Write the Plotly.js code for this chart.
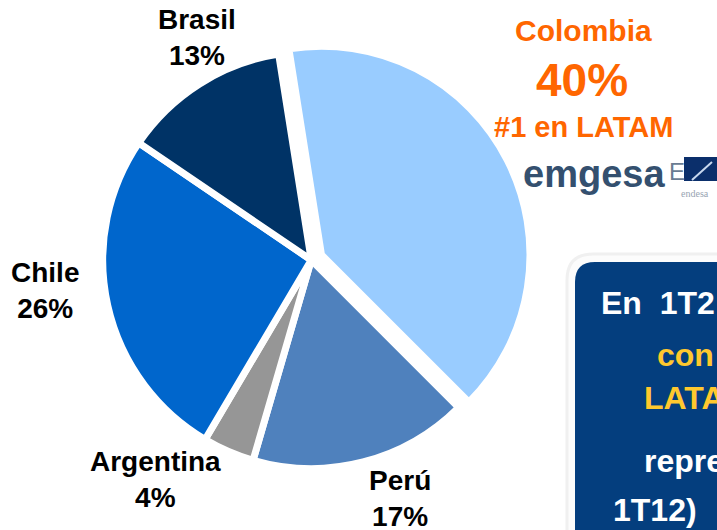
<!DOCTYPE html>
<html>
<head>
<meta charset="utf-8">
<script src="https://cdn.plot.ly/plotly-3.0.1.min.js"></script>
<style>html,body{margin:0;padding:0;background:#fff;}#chart{width:717px;height:530px;}</style>
</head>
<body>
<div id="chart"></div>
<script>
// ---- data ----
const labels = ["Colombia", "Perú", "Argentina", "Chile", "Brasil"];
const values = [40, 17, 4, 26, 13];
const colors = ["#99CCFF", "#4F81BD", "#969696", "#0066CC", "#003366"];
const colombiaNote = "#1 en LATAM";
const boxLines = ["En\u00a0 1T2", "con", "LATA", "repre", "1T12)"];
const boxColors = ["#FFFFFF", "#FFC82E", "#FFC82E", "#FFFFFF", "#FFFFFF"];

const W = 717, H = 530;
const px = x => x / W;
const py = y => 1 - y / H;

function roundRect(l, t, r, b, rad) {
  return `M ${px(l + rad)} ${py(t)} L ${px(r - rad)} ${py(t)} Q ${px(r)} ${py(t)} ${px(r)} ${py(t + rad)} ` +
         `L ${px(r)} ${py(b - rad)} Q ${px(r)} ${py(b)} ${px(r - rad)} ${py(b)} ` +
         `L ${px(l + rad)} ${py(b)} Q ${px(l)} ${py(b)} ${px(l)} ${py(b - rad)} ` +
         `L ${px(l)} ${py(t + rad)} Q ${px(l)} ${py(t)} ${px(l + rad)} ${py(t)} Z`;
}

const trace = {
  type: "pie",
  labels: labels,
  values: values,
  sort: false,
  direction: "clockwise",
  rotation: -9,
  pull: [0.055, 0, 0, 0, 0],
  marker: { colors: colors, line: { color: "#FFFFFF", width: 7 } },
  textinfo: "none",
  hoverinfo: "none",
  domain: { x: [0.1262, 0.7420], y: [0.0943, 0.9245] },
  showlegend: false
};

const labelFont = { family: "Liberation Sans, Arial, sans-serif", size: 28, color: "#000000", weight: 700 };
const labelPos = {
  "Perú": [400, 498],
  "Argentina": [155, 479],
  "Chile": [45, 290],
  "Brasil": [197, 38]
};
const total = values.reduce((a, b) => a + b, 0);
const annotations = [];
labels.forEach((lab, i) => {
  if (!labelPos[lab]) return;
  const p = labelPos[lab];
  annotations.push({
    xref: "paper", yref: "paper", x: px(p[0]), y: py(p[1]),
    xanchor: "center", yanchor: "middle", showarrow: false,
    text: lab + "<br>" + Math.round(values[i] / total * 100) + "%",
    font: labelFont
  });
});

const orange = "#FF6600";
annotations.push({ xref: "paper", yref: "paper", x: px(583), y: py(31), xanchor: "center", yanchor: "middle", showarrow: false,
  text: labels[0], font: { family: "Liberation Sans, Arial, sans-serif", size: 30, color: orange, weight: 700 } });
annotations.push({ xref: "paper", yref: "paper", x: px(582), y: py(80), xanchor: "center", yanchor: "middle", showarrow: false,
  text: Math.round(values[0] / total * 100) + "%", font: { family: "Liberation Sans, Arial, sans-serif", size: 46, color: orange, weight: 700 } });
annotations.push({ xref: "paper", yref: "paper", x: px(583), y: py(127), xanchor: "center", yanchor: "middle", showarrow: false,
  text: colombiaNote, font: { family: "Liberation Sans, Arial, sans-serif", size: 29, color: orange, weight: 700 } });

// logo text
annotations.push({ xref: "paper", yref: "paper", x: px(521), y: py(174), xanchor: "left", yanchor: "middle", showarrow: false,
  text: "emgesa", font: { family: "Liberation Sans, Arial, sans-serif", size: 38, color: "#34506F", weight: 700 } });
annotations.push({ xref: "paper", yref: "paper", x: px(667), y: py(171), xanchor: "left", yanchor: "middle", showarrow: false,
  text: "E", font: { family: "Liberation Sans, Arial, sans-serif", size: 24, color: "#6A7C92" } });
annotations.push({ xref: "paper", yref: "paper", x: px(679), y: py(193), xanchor: "left", yanchor: "middle", showarrow: false,
  text: "endesa", font: { family: "Liberation Serif, serif", size: 10, color: "#98A4B2" } });

const boxX = [599, 655, 642, 642, 611];
const boxY = [303, 355, 398, 461, 510];
boxLines.forEach((t, i) => {
  annotations.push({ xref: "paper", yref: "paper", x: px(boxX[i]), y: py(boxY[i]), xanchor: "left", yanchor: "middle", showarrow: false,
    text: t, font: { family: "Liberation Sans, Arial, sans-serif", size: 32, color: boxColors[i], weight: 700 } });
});

const shapes = [
  { type: "path", xref: "paper", yref: "paper", path: roundRect(567, 254, 760, 570, 26),
    line: { color: "#F0F0F0", width: 3 }, fillcolor: "#FCFCFC", layer: "below" },
  { type: "path", xref: "paper", yref: "paper", path: roundRect(575, 262, 760, 570, 20),
    line: { width: 0 }, fillcolor: "#043E7E", layer: "above" },
  { type: "rect", xref: "paper", yref: "paper", x0: px(684), x1: px(717), y0: py(181), y1: py(157),
    line: { width: 0 }, fillcolor: "#0B2F6B", layer: "above" },
  { type: "line", xref: "paper", yref: "paper", x0: px(692), x1: px(712), y0: py(180), y1: py(162),
    line: { color: "#C8D8EE", width: 2 }, layer: "above" }
];

const layout = {
  width: W, height: H,
  margin: { l: 0, r: 0, t: 0, b: 0 },
  paper_bgcolor: "#FFFFFF",
  plot_bgcolor: "#FFFFFF",
  showlegend: false,
  annotations: annotations,
  shapes: shapes
};

Plotly.newPlot("chart", [trace], layout, { displayModeBar: false, staticPlot: true });
</script>
</body>
</html>
